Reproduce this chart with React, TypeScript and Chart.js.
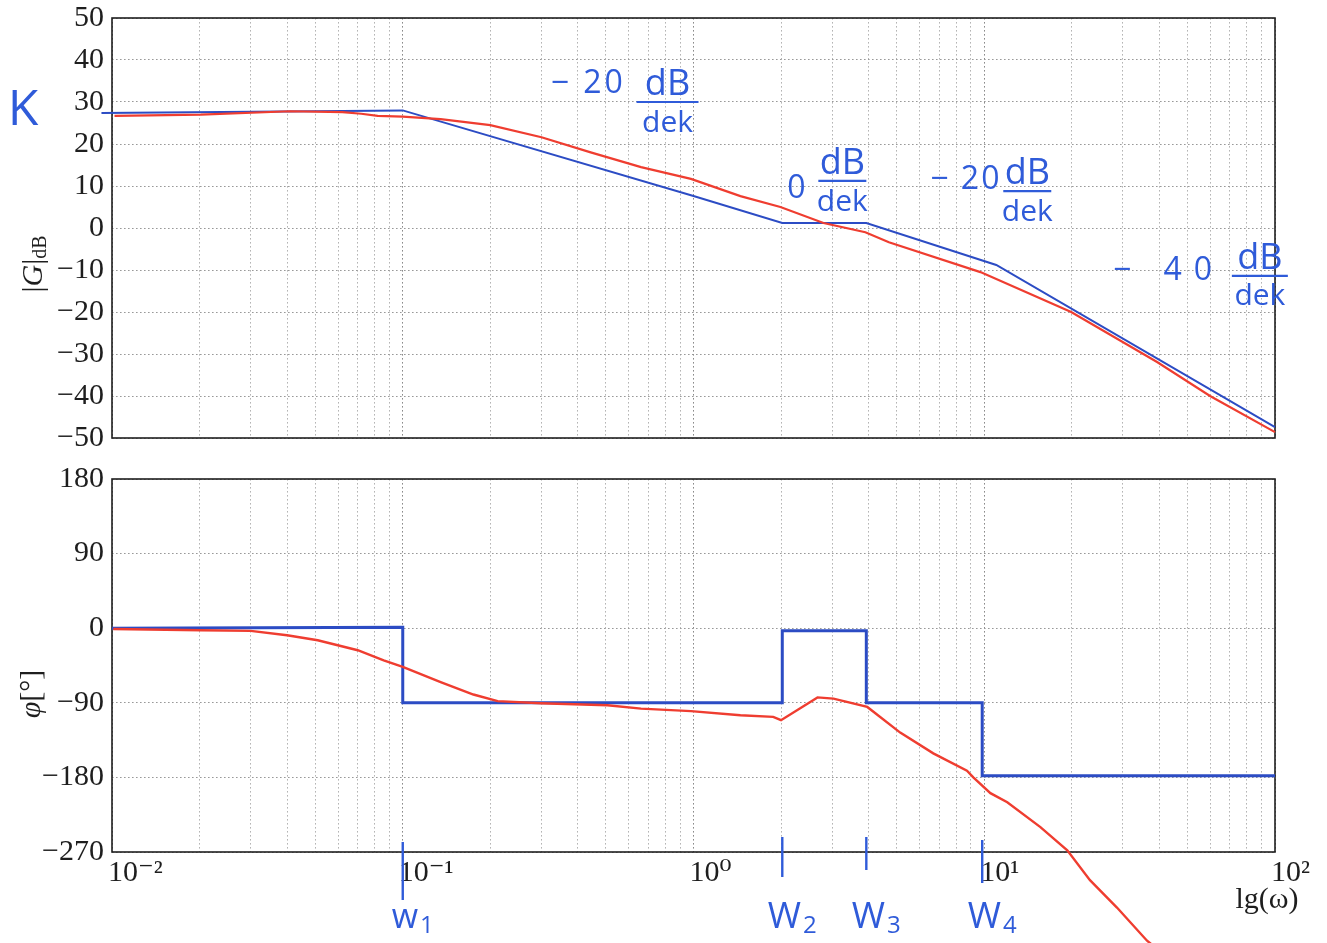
import React, { useEffect, useRef } from 'react';
import { Chart, registerables } from 'chart.js';

Chart.register(...registerables);

// ---------------- data ----------------
const xDecades = [0.01, 0.1, 1, 10, 100];
const xTickLabels = ['10⁻²', '10⁻¹', '10⁰', '10¹', '10²'];

// corner frequencies (hand-marked)
const omegaMarks = [0.1, 2.02, 3.93, 9.84];
const omegaLetters = ['w', 'W', 'W', 'W'];
const omegaIndex = ['1', '2', '3', '4'];

// magnitude, measured (red)
const magRedOmega = [0.0102, 0.0202, 0.041, 0.062, 0.072, 0.082, 0.1, 0.135, 0.2, 0.3, 0.443, 0.66, 0.98, 1.45, 1.99, 2.8, 3.9, 4.7, 9.7, 19.9, 39.3, 59.8, 100, 111];
const magRedDb = [26.7, 27.0, 27.8, 27.6, 27.2, 26.7, 26.5, 25.9, 24.5, 21.6, 18.0, 14.5, 11.7, 7.6, 5.0, 1.2, -1.0, -3.4, -10.5, -20.0, -31.9, -40.0, -48.6, -51.4];

// magnitude, asymptotes (blue)
const magBlueOmega = [0.0092, 0.1, 1.0, 2.02, 3.93, 11, 100, 111];
const magBlueDb = [27.4, 28.0, 7.6, 1.2, 1.2, -8.8, -47.4, -49.5];

// phase, measured (red)
const phaseRedOmega = [0.0101, 0.0202, 0.03, 0.04, 0.051, 0.07, 0.086, 0.1, 0.135, 0.175, 0.212, 0.298, 0.506, 0.66, 0.98, 1.45, 1.88, 2.0, 2.67, 3.03, 3.96, 5.14, 6.68, 8.72, 9.17, 10.5, 12, 15.6, 19.3, 23.1, 28.6, 36.3, 37.5];
const phaseRedDeg = [-1, -2.4, -3.2, -8.5, -14.5, -26.6, -38.7, -46.7, -65, -80, -88, -90.5, -93, -97, -100, -105, -107, -111, -83.5, -85, -95, -126, -151, -172, -180, -199, -210, -240, -268, -304, -337, -377, -381];

// phase, asymptotes (blue)
const phaseBlueOmega = [0.01, 0.1, 0.1, 2.02, 2.02, 3.93, 3.93, 9.84, 9.84, 100];
const phaseBlueDeg = [0, 1, -90, -90, -3, -3, -90, -90, -178, -178];

// handwritten slope notes
const slopePrefix = ['− 20', '0', '− 20', '− 40'];
const slopeNum = ['dB', 'dB', 'dB', 'dB'];
const slopeDen = ['dek', 'dek', 'dek', 'dek'];

// ---------------- style / layout ----------------
const SERIF = "'Liberation Serif', 'DejaVu Serif', serif";
const HAND = "'Open Sans', 'DejaVu Sans', sans-serif";
const RED = '#ef3d30';
const BLUE = '#2c4cc4';
const INK = '#2f5bd9';
const TICK_SIZE = 30;

const notePos = [
  { pw: 0.3226, pdb: 34.3, fw: 0.814, fdb: 30.0, half: 31, sp: 3 },
  { pw: 2.1, pdb: 9.3, fw: 3.25, fdb: 11.2, half: 24, sp: 0 },
  { pw: 6.52, pdb: 11.4, fw: 14.06, fdb: 8.8, half: 24, sp: 2 },
  { pw: 27.7, pdb: -10.2, fw: 88.7, fdb: -11.4, half: 28, sp: 12 },
];
const markLen = [
  { t: -10, b: 48 },
  { t: -15, b: 25 },
  { t: -15, b: 18 },
  { t: -12, b: 31 },
];

const pts = (xs: number[], ys: number[]) => xs.map((x, i) => ({ x, y: ys[i] }));

function gridTicks(): number[] {
  const out: number[] = [];
  for (let d = 0; d < xDecades.length - 1; d++) {
    for (let m = 1; m < 10; m++) out.push(xDecades[d] * m);
  }
  out.push(xDecades[xDecades.length - 1]);
  return out;
}

function decadeLabel(v: number): string {
  const i = xDecades.findIndex((d) => Math.abs(d - v) / d < 1e-6);
  return i >= 0 ? xTickLabels[i] : '';
}

const minusLabel = (v: number) => (v < 0 ? '−' + Math.abs(v) : String(v));

function xScale(showLabels: boolean, height: number): any {
  return {
    type: 'logarithmic',
    min: 0.01,
    max: 100,
    afterBuildTicks: (s: any) => {
      s.ticks = gridTicks().map((v) => ({ value: v, major: decadeLabel(v) !== '' }));
    },
    afterFit: (s: any) => {
      s.height = height;
      s.paddingLeft = 0;
      s.paddingRight = 0;
    },
    grid: {
      color: (c: any) => (c.tick && decadeLabel(c.tick.value) ? '#8a8a8a' : '#b4b4b4'),
      lineWidth: 1,
      drawTicks: false,
    },
    border: { display: false, dash: [1.6, 2.4] },
    ticks: {
      display: showLabels,
      autoSkip: false,
      maxRotation: 0,
      minRotation: 0,
      align: 'start',
      labelOffset: -4,
      padding: 3,
      color: '#1e1e1e',
      font: { family: SERIF, size: TICK_SIZE },
      callback: (v: any) => decadeLabel(Number(v)),
    },
  };
}

function yScale(min: number, max: number, step: number, width: number): any {
  return {
    type: 'linear',
    min,
    max,
    afterFit: (s: any) => {
      s.width = width;
      s.paddingTop = 0;
      s.paddingBottom = 0;
    },
    grid: { color: '#999999', lineWidth: 1, drawTicks: false },
    border: { display: false, dash: [1.6, 2.4] },
    ticks: {
      stepSize: step,
      padding: 8,
      color: '#1e1e1e',
      font: { family: SERIF, size: TICK_SIZE },
      callback: (v: any) => minusLabel(Number(v)),
    },
  };
}

const framePlugin = {
  id: 'frame',
  beforeDatasetsDraw(chart: any) {
    const { ctx, chartArea: a } = chart;
    ctx.save();
    ctx.strokeStyle = '#1f1f1f';
    ctx.lineWidth = 1.6;
    ctx.strokeRect(a.left, a.top, a.right - a.left, a.bottom - a.top);
    ctx.restore();
  },
};

function drawRun(ctx: any, parts: { t: string; f: string; dy: number }[]) {
  let total = 0;
  for (const p of parts) {
    ctx.font = p.f;
    total += ctx.measureText(p.t).width;
  }
  let cx = -total / 2;
  for (const p of parts) {
    ctx.font = p.f;
    ctx.fillText(p.t, cx, p.dy);
    cx += ctx.measureText(p.t).width;
  }
}

const magNotesPlugin = {
  id: 'magNotes',
  afterDraw(chart: any) {
    const { ctx, chartArea: a } = chart;
    const xs = chart.scales.x;
    const ys = chart.scales.y;
    ctx.save();
    // axis title |G|dB
    ctx.translate(34, 264);
    ctx.rotate(-Math.PI / 2);
    ctx.fillStyle = '#1e1e1e';
    ctx.textBaseline = 'middle';
    ctx.textAlign = 'left';
    drawRun(ctx, [
      { t: '|', f: `30px ${SERIF}`, dy: 0 },
      { t: 'G', f: `italic 30px ${SERIF}`, dy: 0 },
      { t: '|', f: `30px ${SERIF}`, dy: 0 },
      { t: 'dB', f: `20px ${SERIF}`, dy: 7 },
    ]);
    ctx.restore();

    ctx.save();
    ctx.fillStyle = INK;
    ctx.strokeStyle = INK;
    ctx.textBaseline = 'middle';
    // K
    ctx.font = `50px ${HAND}`;
    ctx.textAlign = 'center';
    ctx.fillText('K', a.left - 89, ys.getPixelForValue(28));
    // slope notes
    notePos.forEach((n, i) => {
      ctx.font = `32px ${HAND}`;
      ctx.textAlign = 'left';
      (ctx as any).letterSpacing = `${n.sp}px`;
      ctx.fillText(slopePrefix[i], xs.getPixelForValue(n.pw), ys.getPixelForValue(n.pdb));
      (ctx as any).letterSpacing = '0px';
      const fx = xs.getPixelForValue(n.fw);
      const fy = ys.getPixelForValue(n.fdb);
      ctx.textAlign = 'center';
      ctx.font = `36px ${HAND}`;
      ctx.fillText(slopeNum[i], fx, fy - 17);
      ctx.font = `30px ${HAND}`;
      ctx.fillText(slopeDen[i], fx, fy + 21);
      ctx.lineWidth = 2.2;
      ctx.beginPath();
      ctx.moveTo(fx - n.half, fy);
      ctx.lineTo(fx + n.half, fy);
      ctx.stroke();
    });
    ctx.restore();
  },
};

const phaseNotesPlugin = {
  id: 'phaseNotes',
  afterDraw(chart: any) {
    const { ctx, chartArea: a } = chart;
    const xs = chart.scales.x;
    ctx.save();
    // axis title phi[deg]
    ctx.translate(32, 234);
    ctx.rotate(-Math.PI / 2);
    ctx.fillStyle = '#1e1e1e';
    ctx.textBaseline = 'middle';
    ctx.textAlign = 'left';
    drawRun(ctx, [
      { t: 'φ', f: `italic 30px ${SERIF}`, dy: 0 },
      { t: '[°]', f: `30px ${SERIF}`, dy: 0 },
    ]);
    ctx.restore();

    // x axis title
    ctx.save();
    ctx.fillStyle = '#1e1e1e';
    ctx.textBaseline = 'middle';
    ctx.textAlign = 'center';
    ctx.font = `30px ${SERIF}`;
    ctx.fillText('lg(ω)', a.right - 8, a.bottom + 48);
    ctx.restore();

    // omega marks
    ctx.save();
    ctx.strokeStyle = INK;
    ctx.fillStyle = INK;
    ctx.lineWidth = 2.4;
    ctx.textBaseline = 'middle';
    omegaMarks.forEach((w, i) => {
      const px = xs.getPixelForValue(w);
      ctx.beginPath();
      ctx.moveTo(px, a.bottom + markLen[i].t);
      ctx.lineTo(px, a.bottom + markLen[i].b);
      ctx.stroke();
      const big = omegaLetters[i] === 'W';
      const lf = `${big ? 36 : 34}px ${HAND}`;
      ctx.font = lf;
      const lw = ctx.measureText(omegaLetters[i]).width;
      ctx.font = `24px ${HAND}`;
      const sw = ctx.measureText(omegaIndex[i]).width;
      const left = px + 10 - (lw + sw + 2) / 2;
      ctx.textAlign = 'left';
      ctx.font = lf;
      ctx.fillText(omegaLetters[i], left, a.bottom + 66);
      ctx.font = `24px ${HAND}`;
      ctx.fillText(omegaIndex[i], left + lw + 2, a.bottom + 74);
    });
    ctx.restore();
  },
};

export default function App() {
  const magRef = useRef<HTMLCanvasElement>(null);
  const phaseRef = useRef<HTMLCanvasElement>(null);

  useEffect(() => {
    const mag = new Chart(magRef.current as HTMLCanvasElement, {
      type: 'line',
      data: {
        datasets: [
          {
            data: pts(magRedOmega, magRedDb),
            borderColor: RED,
            borderWidth: 2.2,
            pointRadius: 0,
            clip: false,
          } as any,
          {
            data: pts(magBlueOmega, magBlueDb),
            borderColor: BLUE,
            borderWidth: 2,
            pointRadius: 0,
            clip: false,
          } as any,
        ],
      },
      options: {
        responsive: false,
        animation: false,
        layout: { padding: { left: 0, right: 52, top: 18, bottom: 0 } },
        plugins: { legend: { display: false }, tooltip: { enabled: false } },
        scales: {
          x: xScale(false, 22),
          y: yScale(-50, 50, 10, 112),
        },
      },
      plugins: [framePlugin, magNotesPlugin],
    });

    const phase = new Chart(phaseRef.current as HTMLCanvasElement, {
      type: 'line',
      data: {
        datasets: [
          {
            data: pts(phaseRedOmega, phaseRedDeg),
            borderColor: RED,
            borderWidth: 2.4,
            pointRadius: 0,
            clip: false,
          } as any,
          {
            data: pts(phaseBlueOmega, phaseBlueDeg),
            borderColor: BLUE,
            borderWidth: 3,
            pointRadius: 0,
            clip: false,
          } as any,
        ],
      },
      options: {
        responsive: false,
        animation: false,
        layout: { padding: { left: 0, right: 52, top: 19, bottom: 0 } },
        plugins: { legend: { display: false }, tooltip: { enabled: false } },
        scales: {
          x: xScale(true, 91),
          y: yScale(-270, 180, 90, 112),
        },
      },
      plugins: [framePlugin, phaseNotesPlugin],
    });

    return () => {
      mag.destroy();
      phase.destroy();
    };
  }, []);

  return (
    <div
      style={{
        position: 'absolute',
        left: 0,
        top: 0,
        width: 1327,
        height: 943,
        background: '#ffffff',
        overflow: 'hidden',
      }}
    >
      <canvas
        ref={magRef}
        width={1327}
        height={460}
        style={{ position: 'absolute', left: 0, top: 0, display: 'block' }}
      />
      <canvas
        ref={phaseRef}
        width={1327}
        height={483}
        style={{ position: 'absolute', left: 0, top: 460, display: 'block' }}
      />
    </div>
  );
}
